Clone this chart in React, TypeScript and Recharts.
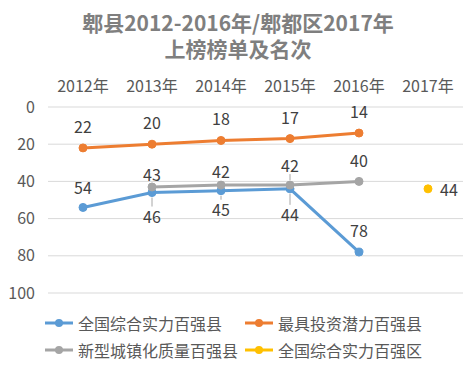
import React from 'react';
import { LineChart, Line, XAxis, YAxis, CartesianGrid, LabelList } from 'recharts';

const years = ['2012年', '2013年', '2014年', '2015年', '2016年', '2017年'];
const countyOverall: (number | null)[] = [54, 46, 45, 44, 78, null];
const investPotential: (number | null)[] = [22, 20, 18, 17, 14, null];
const urbanQuality: (number | null)[] = [null, 43, 42, 42, 40, null];
const districtOverall: (number | null)[] = [null, null, null, null, null, 44];
const yTicks = [0, 20, 40, 60, 80, 100];

const titleLine1 = '郫县2012-2016年/郫都区2017年';
const titleLine2 = '上榜榜单及名次';

const FONT = '"Noto Sans CJK SC", "Noto Sans", sans-serif';
const LABEL_COLOR = '#404040';

// label placement: [dx, dy, leader]
type Place = [number, number, boolean];
const series = [
  { key: 'a', name: '全国综合实力百强县', color: '#5B9BD5', values: countyOverall,
    place: [[0, -20, false], [0, 23, true], [0, 18, true], [0, 25, true], [0, -22, false], [0, 0, false]] as Place[] },
  { key: 'b', name: '最具投资潜力百强县', color: '#ED7D31', values: investPotential,
    place: [[0, -22, false], [0, -22, false], [0, -22, false], [0, -22, false], [0, -22, false], [0, 0, false]] as Place[] },
  { key: 'c', name: '新型城镇化质量百强县', color: '#A5A5A5', values: urbanQuality,
    place: [[0, -20, false], [0, -13, false], [0, -14, false], [0, -20, true], [0, -21, false], [0, 0, false]] as Place[] },
  { key: 'd', name: '全国综合实力百强区', color: '#FFC000', values: districtOverall,
    place: [[0, 0, false], [0, 0, false], [0, 0, false], [0, 0, false], [0, 0, false], [12, 0, false]] as Place[] },
];

const data = years.map((y, i) => {
  const row: Record<string, any> = { year: y };
  series.forEach((s) => { row[s.key] = s.values[i]; });
  return row;
});

const makeLabel = (place: Place[]) => (props: any) => {
  const { x, y, value, index } = props;
  if (value == null) return null;
  const [dx, dy, leader] = place[index] || [0, -20, false];
  const lx = x + dx;
  const ly = y + dy;
  return (
    <g>
      {leader && (
        <line x1={x} y1={y + (dy > 0 ? 5 : -5)} x2={lx} y2={ly + (dy > 0 ? -9 : 9)} stroke="#a6a6a6" strokeWidth={1} />
      )}
      <text x={lx} y={ly} textAnchor={dx > 0 ? 'start' : 'middle'} dominantBaseline="central"
        fill={LABEL_COLOR} fontSize={16} fontFamily={FONT}>{value}</text>
    </g>
  );
};

const XTick = (props: any) => {
  const { x, payload } = props;
  return (
    <text x={x} y={85} textAnchor="middle" dominantBaseline="central" fill="#595959" fontSize={16} fontFamily={FONT}>
      {payload.value}
    </text>
  );
};

export default function App() {
  return (
    <div style={{ position: 'absolute', left: 0, top: 0, width: 476, height: 373, background: '#fff', fontFamily: FONT }}>
      <div style={{ position: 'absolute', left: 0, top: 9, width: 476, textAlign: 'center', fontWeight: 'bold', fontSize: 21, lineHeight: '26px', color: '#7f7f7f' }}>
        <div>{titleLine1}</div>
        <div>{titleLine2}</div>
      </div>
      <div style={{ position: 'absolute', left: 0, top: 0 }}>
        <LineChart width={476} height={373} data={data} margin={{ top: 70, right: 13, bottom: 80, left: 0 }}>
          <CartesianGrid vertical={false} stroke="#d9d9d9" strokeWidth={1} />
          <XAxis dataKey="year" orientation="top" height={37} axisLine={false} tickLine={false} tick={<XTick />} interval={0}
            padding={{ left: 35, right: 35 }} />
          <YAxis reversed domain={[0, 100]} ticks={yTicks} width={48} axisLine={false} tickLine={false} tickSize={0} tickMargin={13}
            tick={{ fill: '#595959', fontSize: 16, fontFamily: FONT }} interval={0} />
          {series.map((s) => (
            <Line key={s.key} dataKey={s.key} name={s.name} stroke={s.color} strokeWidth={3}
              dot={{ r: 4, fill: s.color, stroke: s.color, strokeWidth: 1 }} activeDot={false}
              isAnimationActive={false} connectNulls={false}>
              <LabelList dataKey={s.key} content={makeLabel(s.place)} />
            </Line>
          ))}
        </LineChart>
      </div>
      {series.map((s, i) => {
        const col = i % 2;
        const row = Math.floor(i / 2);
        const left = col === 0 ? 45 : 245;
        const top = row === 0 ? 323 : 350;
        return (
          <div key={s.key} style={{ position: 'absolute', left, top: top - 12, height: 24, display: 'flex', alignItems: 'center' }}>
            <svg width={28} height={10} style={{ marginRight: 5 }}>
              <line x1={0} y1={5} x2={28} y2={5} stroke={s.color} strokeWidth={3} />
              <circle cx={14} cy={5} r={4} fill={s.color} />
            </svg>
            <span style={{ fontSize: 16, color: '#595959', whiteSpace: 'nowrap' }}>{s.name}</span>
          </div>
        );
      })}
    </div>
  );
}
